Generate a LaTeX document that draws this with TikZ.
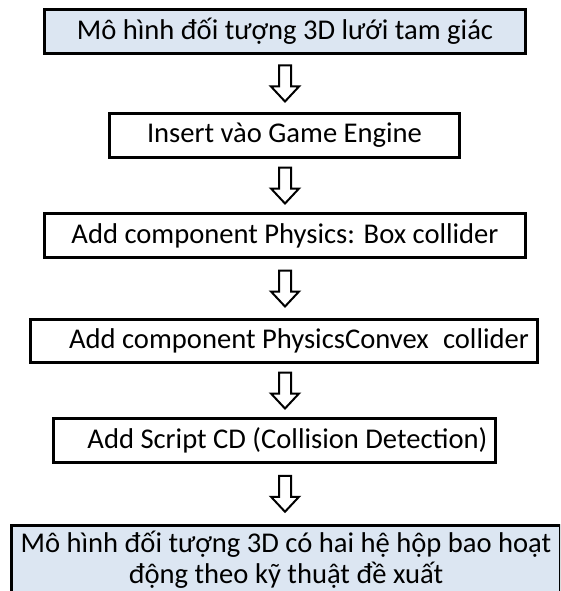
\documentclass[tikz,border=0pt]{standalone}
\usepackage{fontspec}
\setmainfont{Carlito}
\usetikzlibrary{calc}
\definecolor{boxblue}{RGB}{220,230,242}
\tikzset{
  stepbox/.style={rectangle, draw=black, line width=3pt, fill=white, inner sep=0pt, minimum height=44pt, font=\fontsize{28.6}{31}\selectfont},
  endbox/.style={stepbox, fill=boxblue},
  downarrow/.pic={\draw[line width=2pt, fill=white] (-6,18) -- (6,18) -- (6,-3) -- (14,-3) -- (0,-18) -- (-14,-3) -- (-6,-3) -- cycle;}
}
\begin{document}
\begin{tikzpicture}[x=1pt, y=1pt]
  \useasboundingbox (0,0) rectangle (560,-591);
  \clip (0,0) rectangle (560,-591);
  % steps
  \node[endbox, minimum width=481pt] (model) at (285,-31.5) {Mô hình đối tượng 3D lưới tam giác};
  \node[stepbox, minimum width=350pt] (insert) at (284.5,-135.5) {Insert vào Game Engine};
  \node[stepbox, minimum width=481pt] (boxcol) at (285,-235.5) {Add component Physics: Box collider};
  \node[stepbox, minimum width=507pt, minimum height=43pt] (convex) at (284,-341) {\hspace*{30pt}Add component PhysicsConvex\enspace collider};
  \node[stepbox, minimum width=442pt] (script) at (274.5,-440.5) {\hspace*{26pt}Add Script CD (Collision Detection)};
  \node[endbox, minimum width=549pt, minimum height=70pt, anchor=north, align=center] (result) at (286,-523.5)
    {Mô hình đối tượng 3D có hai hệ hộp bao hoạt\\động theo kỹ thuật đề xuất};
  % arrows
  \foreach \a/\b in {model/insert, insert/boxcol, boxcol/convex, convex/script, script/result} {
    \coordinate (mid) at ($(\a.south)!0.5!(\b.north)$);
    \pic at (model.south |- mid) {downarrow};
  }
\end{tikzpicture}
\end{document}
